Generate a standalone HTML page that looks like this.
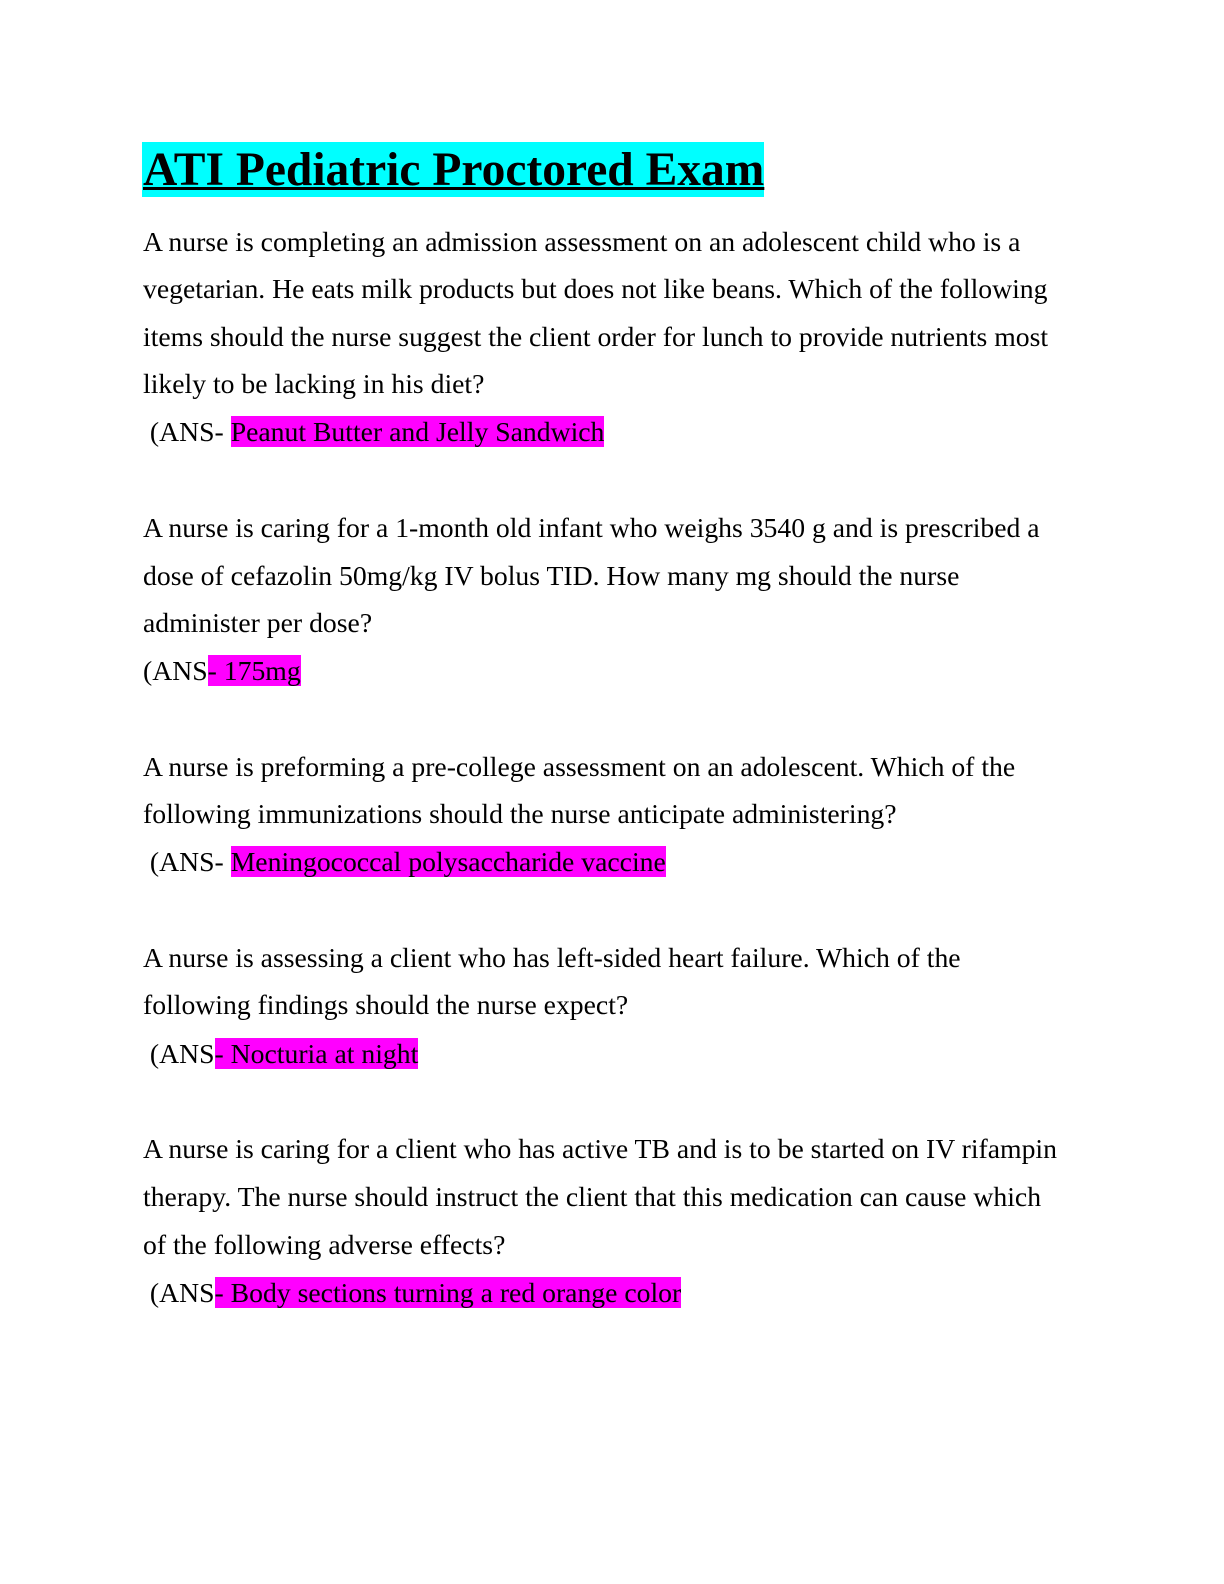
<!DOCTYPE html>
<html><head><meta charset="utf-8"><style>
body{margin:0;width:1224px;height:1584px;background:#fff;position:relative;font-family:"Liberation Serif",serif;color:#000;}
.l{position:absolute;left:143px;font-size:27.7px;line-height:32px;white-space:nowrap;}
.h{background:#ff00ff;}
.t{position:absolute;left:142px;top:142px;height:55px;width:622px;background:#00ffff;}
.tt{position:absolute;left:143px;top:141px;font-size:47.5px;font-weight:bold;line-height:58px;text-decoration:underline;text-decoration-thickness:3px;white-space:nowrap;}
</style></head><body>
<div class="t"></div>
<div class="tt">ATI Pediatric Proctored Exam</div>
<div class="l" style="top:226px">A nurse is completing an admission assessment on an adolescent child who is a</div>
<div class="l" style="top:273px">vegetarian. He eats milk products but does not like beans. Which of the following</div>
<div class="l" style="top:321px">items should the nurse suggest the client order for lunch to provide nutrients most</div>
<div class="l" style="top:368px">likely to be lacking in his diet?</div>
<div class="l" style="top:416px">&nbsp;(ANS- <span class="h">Peanut Butter and Jelly Sandwich</span></div>
<div class="l" style="top:512px">A nurse is caring for a 1-month old infant who weighs 3540 g and is prescribed a</div>
<div class="l" style="top:560px">dose of cefazolin 50mg/kg IV bolus TID. How many mg should the nurse</div>
<div class="l" style="top:607px">administer per dose?</div>
<div class="l" style="top:655px">(ANS<span class="h">- 175mg</span></div>
<div class="l" style="top:751px">A nurse is preforming a pre-college assessment on an adolescent. Which of the</div>
<div class="l" style="top:798px">following immunizations should the nurse anticipate administering?</div>
<div class="l" style="top:846px">&nbsp;(ANS- <span class="h">Meningococcal polysaccharide vaccine</span></div>
<div class="l" style="top:942px">A nurse is assessing a client who has left-sided heart failure. Which of the</div>
<div class="l" style="top:989px">following findings should the nurse expect?</div>
<div class="l" style="top:1038px">&nbsp;(ANS<span class="h">- Nocturia at night</span></div>
<div class="l" style="top:1133px">A nurse is caring for a client who has active TB and is to be started on IV rifampin</div>
<div class="l" style="top:1181px">therapy. The nurse should instruct the client that this medication can cause which</div>
<div class="l" style="top:1229px">of the following adverse effects?</div>
<div class="l" style="top:1277px">&nbsp;(ANS<span class="h">- Body sections turning a red orange color</span></div>
</body></html>
